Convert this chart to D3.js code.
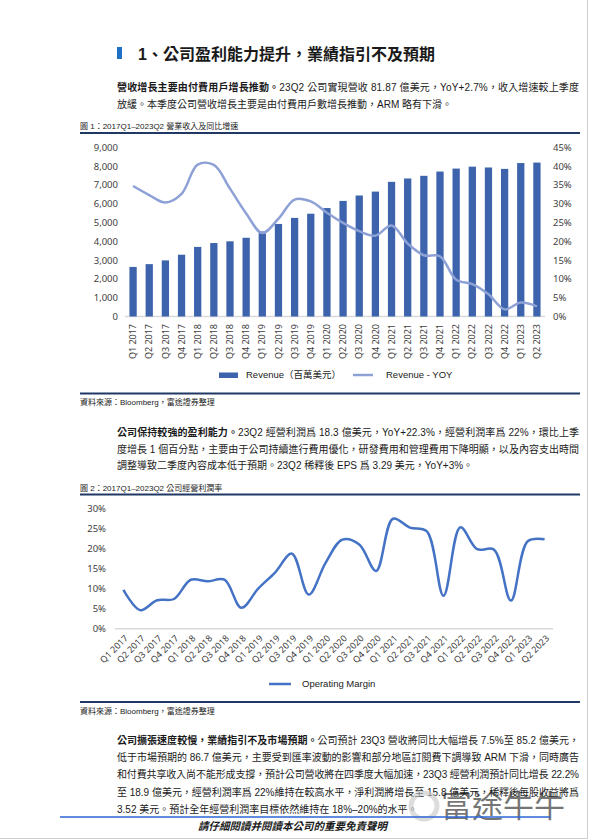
<!DOCTYPE html>
<html lang="zh-Hant">
<head>
<meta charset="UTF-8">
<title>營業收入及經營利潤率</title>
<script src="https://cdn.jsdelivr.net/npm/d3@7"></script>
<style>
    body { margin: 0; background: #fff; }
    #page { width: 593px; height: 840px; }
    .txt { font-family: "Liberation Sans", "Noto Sans CJK TC", sans-serif; fill: #1a1a1a; }
    .axis text { font-family: "Noto Sans", "Noto Sans CJK TC", sans-serif; fill: #404040; }
</style>
</head>
<body>
<div id="page"></div>
<script>
    // data
    var quarters = ["Q1 2017","Q2 2017","Q3 2017","Q4 2017","Q1 2018","Q2 2018","Q3 2018","Q4 2018",
                    "Q1 2019","Q2 2019","Q3 2019","Q4 2019","Q1 2020","Q2 2020","Q3 2020","Q4 2020",
                    "Q1 2021","Q2 2021","Q3 2021","Q4 2021","Q1 2022","Q2 2022","Q3 2022","Q4 2022",
                    "Q1 2023","Q2 2023"];
    var revenue = [2637, 2785, 2985, 3286, 3701, 3907, 3999, 4187, 4521, 4923, 5245, 5467, 5768,
                   6148, 6436, 6644, 7163, 7342, 7483, 7709, 7868, 7970, 7926, 7852, 8162, 8187];
    var revenueYoy = [34.7, 32.3, 30.3, 32.6, 40.4, 40.3, 34.0, 27.4, 22.2, 26.0, 31.1, 30.6, 27.6,
                      24.9, 22.7, 21.5, 24.2, 19.4, 16.3, 16.0, 9.8, 8.6, 5.9, 1.9, 3.7, 2.7];
    var opMargin = [9.7, 4.6, 7.1, 7.4, 12.2, 11.8, 12.2, 5.2, 10.0, 14.0, 18.7, 8.5, 16.4,
                    22.2, 21.0, 14.4, 27.4, 25.2, 24.3, 8.2, 25.3, 19.8, 19.7, 7.0, 21.8, 22.3];
    var revTicks = [0, 1000, 2000, 3000, 4000, 5000, 6000, 7000, 8000, 9000];
    var yoyTicks = [0, 5, 10, 15, 20, 25, 30, 35, 40, 45];
    var marginTicks = [0, 5, 10, 15, 20, 25, 30];

    var svg = d3.select('#page').append('svg').attr('width', 593).attr('height', 840);

    // one line of body text; justified lines are stretched to the column width
    function textLine(y, parts, justify) {
        var t = svg.append('text').attr('class', 'txt').attr('x', 117).attr('y', y)
                   .attr('dy', '0.36em').attr('font-size', 10);
        parts.forEach(function(p) {
            t.append('tspan').text(p.t).attr('font-weight', p.b ? 700 : 400);
        });
        if (justify) t.attr('textLength', 462).attr('lengthAdjust', 'spacing');
    }
    function rule(y) {
        svg.append('line').attr('x1', 80).attr('x2', 580).attr('y1', y).attr('y2', y)
           .attr('stroke', '#1f3864').attr('stroke-width', 2);
    }
    function smallText(y, s) {
        svg.append('text').attr('class', 'txt').attr('x', 80).attr('y', y).attr('dy', '0.36em')
           .attr('font-size', 8).attr('fill', '#333').text(s);
    }

    // page edge
    svg.append('line').attr('x1', 587.5).attr('x2', 587.5).attr('y1', 0).attr('y2', 839)
       .attr('stroke', '#cfcfcf');
    svg.append('line').attr('x1', 0).attr('x2', 587.5).attr('y1', 838.5).attr('y2', 838.5)
       .attr('stroke', '#cfcfcf');

    // heading
    svg.append('rect').attr('x', 117).attr('y', 47).attr('width', 5).attr('height', 12).attr('fill', '#1f6fc5');
    svg.append('text').attr('class', 'txt').attr('x', 138).attr('y', 54).attr('dy', '0.36em')
       .attr('font-size', 16).attr('font-weight', 700).attr('fill', '#111')
       .text('1、公司盈利能力提升，業績指引不及預期');

    textLine(87.7, [{t: '營收增長主要由付費用戶增長推動。', b: true}, {t: '23Q2 公司實現營收 81.87 億美元，YoY+2.7%，收入增速較上季度'}], true);
    textLine(104.3, [{t: '放緩。本季度公司營收增長主要是由付費用戶數增長推動，ARM 略有下滑。'}], false);

    smallText(125.7, '圖 1：2017Q1–2023Q2 營業收入及同比增速');
    rule(133);

    // ---- chart 1: revenue bars + yoy line
    var x1 = d3.scaleBand().domain(quarters).range([125, 545]).paddingInner(0.55).paddingOuter(0.275);
    var yRev = d3.scaleLinear().domain([0, 9000]).range([316.5, 147.3]);
    var yYoy = d3.scaleLinear().domain([0, 45]).range([316.5, 147.3]);

    svg.append('line').attr('x1', 125).attr('x2', 545).attr('y1', 316.5).attr('y2', 316.5)
       .attr('stroke', '#d9d9d9').attr('stroke-width', 1.5);

    svg.append('g').selectAll('rect').data(revenue).enter().append('rect')
       .attr('x', function(d, i) { return x1(quarters[i]); })
       .attr('y', function(d) { return yRev(d); })
       .attr('width', x1.bandwidth())
       .attr('height', function(d) { return yRev(0) - yRev(d); })
       .attr('fill', '#3c63ac');

    var yoyLine = d3.line()
        .x(function(d, i) { return x1(quarters[i]) + x1.bandwidth() / 2; })
        .y(function(d) { return yYoy(d); })
        .curve(d3.curveCatmullRom);
    svg.append('path').datum(revenueYoy).attr('d', yoyLine).attr('fill', 'none')
       .attr('stroke', '#8ea1d6').attr('stroke-width', 2.5);

    var ax = svg.append('g').attr('class', 'axis').attr('transform', 'translate(118,0)')
        .call(d3.axisLeft(yRev).tickValues(revTicks).tickSize(0).tickPadding(0).tickFormat(d3.format(',')));
    ax.select('.domain').remove();
    ax.selectAll('text').attr('font-size', 9.5);

    ax = svg.append('g').attr('class', 'axis').attr('transform', 'translate(553,0)')
        .call(d3.axisRight(yYoy).tickValues(yoyTicks).tickSize(0).tickPadding(0).tickFormat(function(d) { return d + '%'; }));
    ax.select('.domain').remove();
    ax.selectAll('text').attr('font-size', 9.5);

    ax = svg.append('g').attr('class', 'axis').attr('transform', 'translate(0,316.5)')
        .call(d3.axisBottom(x1).tickSize(0));
    ax.select('.domain').remove();
    ax.selectAll('text').attr('font-size', 9).attr('text-anchor', 'end')
      .attr('transform', 'translate(0,7.5) rotate(-90)').attr('x', 0).attr('y', 0).attr('dy', '0.35em');

    // legend 1
    svg.append('rect').attr('x', 219).attr('y', 372.5).attr('width', 19).attr('height', 5.5).attr('fill', '#3c63ac');
    svg.append('text').attr('class', 'txt').attr('x', 246).attr('y', 375).attr('dy', '0.36em')
       .attr('font-size', 9.5).attr('fill', '#404040').text('Revenue（百萬美元）');
    svg.append('line').attr('x1', 353).attr('x2', 373).attr('y1', 375).attr('y2', 375)
       .attr('stroke', '#8ea1d6').attr('stroke-width', 2.5);
    svg.append('text').attr('class', 'txt').attr('x', 386).attr('y', 375).attr('dy', '0.36em')
       .attr('font-size', 9.5).attr('fill', '#404040').text('Revenue - YOY');

    rule(393.5);
    smallText(402.5, '資料來源：Bloomberg，富途證券整理');

    textLine(432.3, [{t: '公司保持較強的盈利能力。', b: true}, {t: '23Q2 經營利潤爲 18.3 億美元，YoY+22.3%，經營利潤率爲 22%，環比上季'}], true);
    textLine(449, [{t: '度增長 1 個百分點，主要由于公司持續進行費用優化，研發費用和管理費用下降明顯，以及內容支出時間'}], true);
    textLine(465.7, [{t: '調整導致二季度內容成本低于預期。23Q2 稀釋後 EPS 爲 3.29 美元，YoY+3%。'}], false);

    smallText(488.3, '圖 2：2017Q1–2023Q2 公司經營利潤率');
    rule(494.5);

    // ---- chart 2: operating margin line
    var x2 = d3.scaleBand().domain(quarters).range([115, 553]);
    var yM = d3.scaleLinear().domain([0, 30]).range([628.7, 508.3]);

    svg.append('line').attr('x1', 115).attr('x2', 553).attr('y1', 628.7).attr('y2', 628.7)
       .attr('stroke', '#d9d9d9').attr('stroke-width', 1.5);

    var marginLine = d3.line()
        .x(function(d, i) { return x2(quarters[i]) + x2.bandwidth() / 2; })
        .y(function(d) { return yM(d); })
        .curve(d3.curveCatmullRom);
    svg.append('path').datum(opMargin).attr('d', marginLine).attr('fill', 'none')
       .attr('stroke', '#4472c4').attr('stroke-width', 2.5);

    ax = svg.append('g').attr('class', 'axis').attr('transform', 'translate(106,0)')
        .call(d3.axisLeft(yM).tickValues(marginTicks).tickSize(0).tickPadding(0).tickFormat(function(d) { return d + '%'; }));
    ax.select('.domain').remove();
    ax.selectAll('text').attr('font-size', 9.5);

    ax = svg.append('g').attr('class', 'axis').attr('transform', 'translate(0,628.7)')
        .call(d3.axisBottom(x2).tickSize(0));
    ax.select('.domain').remove();
    ax.selectAll('text').attr('font-size', 9).attr('text-anchor', 'end')
      .attr('transform', 'translate(3,8) rotate(-45)').attr('x', 0).attr('y', 0).attr('dy', '0.35em');

    // legend 2
    svg.append('line').attr('x1', 269).attr('x2', 291).attr('y1', 684).attr('y2', 684)
       .attr('stroke', '#4472c4').attr('stroke-width', 2.5);
    svg.append('text').attr('class', 'txt').attr('x', 302).attr('y', 684).attr('dy', '0.36em')
       .attr('font-size', 9.5).attr('fill', '#404040').text('Operating Margin');

    rule(702);
    smallText(711, '資料來源：Bloomberg，富途證券整理');

    textLine(740, [{t: '公司擴張速度較慢，業績指引不及市場預期。', b: true}, {t: '公司預計 23Q3 營收將同比大幅增長 7.5%至 85.2 億美元，'}], true);
    textLine(757.4, [{t: '低于市場預期的 86.7 億美元，主要受到匯率波動的影響和部分地區訂閱費下調導致 ARM 下滑，同時廣告'}], true);
    textLine(774.8, [{t: '和付費共享收入尚不能形成支撐，預計公司營收將在四季度大幅加速，23Q3 經營利潤預計同比增長 22.2%'}], true);
    textLine(792.2, [{t: '至 18.9 億美元，經營利潤率爲 22%維持在較高水平，淨利潤將增長至 15.8 億美元，稀釋後每股收益將爲'}], true);
    textLine(809.6, [{t: '3.52 美元。預計全年經營利潤率目標依然維持在 18%–20%的水平。'}], false);

    // watermark
    var wm = svg.append('g').attr('opacity', 0.6);
    wm.append('circle').attr('cx', 424).attr('cy', 806).attr('r', 13).attr('fill', 'none')
      .attr('stroke', '#c8c8c8').attr('stroke-width', 5);
    wm.append('text').attr('class', 'txt').attr('x', 441).attr('y', 806).attr('dy', '0.36em')
      .attr('font-size', 31).attr('fill', '#c8c8c8').text('富途牛牛');

    // footer
    svg.append('line').attr('x1', 60).attr('x2', 550).attr('y1', 817).attr('y2', 817)
       .attr('stroke', '#2a66d4').attr('stroke-width', 1.5);
    svg.append('text').attr('class', 'txt').attr('x', 198).attr('y', 826).attr('dy', '0.36em')
       .attr('font-size', 10.5).attr('font-weight', 700).attr('font-style', 'italic')
       .attr('fill', '#1a5ad7').text('請仔細閱讀并閱讀本公司的重要免責聲明');
</script>
</body>
</html>
